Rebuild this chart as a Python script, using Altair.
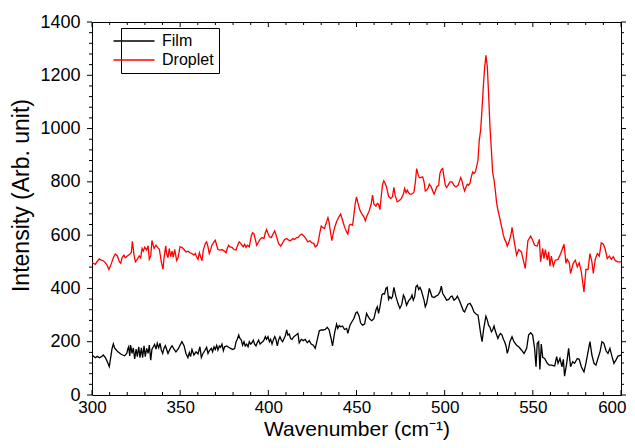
import altair as alt
import pandas as pd

# ---------------- data ----------------
film_x = [300.0, 301.9, 303.0, 304.2, 305.3, 306.4, 307.6, 308.7, 309.8, 310.6, 311.3, 312.1, 312.8, 314.0,
          315.1, 316.3, 317.4, 318.5, 319.7, 320.4, 320.8, 321.4, 321.9, 322.7, 323.4, 324.2, 325.0, 325.7,
          326.5, 327.2, 328.0, 328.7, 329.5, 330.2, 331.0, 331.8, 332.5, 333.3, 334.0, 334.8, 335.5, 336.3,
          337.0, 337.8, 338.6, 339.3, 340.1, 340.8, 341.6, 342.3, 343.1, 344.2, 345.4, 346.5, 347.6, 348.8,
          349.9, 351.0, 352.2, 353.3, 354.4, 355.2, 355.9, 356.7, 357.8, 359.0, 360.1, 361.2, 362.0, 362.8,
          363.9, 365.0, 365.8, 366.5, 367.7, 368.4, 369.2, 369.9, 370.7, 371.4, 372.2, 372.9, 373.7, 374.5,
          375.2, 376.4, 377.5, 378.6, 379.8, 380.9, 381.7, 382.4, 383.2, 383.9, 384.7, 385.4, 386.2, 386.9,
          387.7, 388.5, 389.2, 390.0, 390.7, 391.5, 392.2, 393.0, 393.7, 394.5, 395.3, 396.0, 396.8, 397.5,
          398.3, 399.0, 399.8, 400.6, 401.3, 402.1, 402.8, 403.6, 404.3, 405.1, 405.8, 406.6, 407.4, 408.1,
          408.9, 409.6, 410.4, 411.1, 411.9, 412.6, 413.4, 414.5, 415.7, 416.8, 417.5, 418.7, 419.8, 420.9,
          422.1, 423.2, 424.3, 425.5, 426.6, 427.7, 428.9, 430.0, 431.1, 432.3, 433.4, 434.5, 435.7, 436.4,
          437.6, 438.7, 439.4, 440.2, 441.0, 442.1, 443.2, 444.4, 445.1, 446.3, 447.4, 448.5, 449.7, 450.4,
          451.5, 452.3, 453.4, 454.6, 455.7, 456.5, 457.6, 458.7, 459.9, 461.0, 461.8, 462.5, 463.3, 464.4,
          465.2, 465.9, 466.7, 467.4, 468.2, 468.9, 469.7, 470.4, 471.2, 472.3, 473.5, 474.6, 475.7, 476.6,
          477.3, 478.4, 479.6, 480.7, 481.5, 482.2, 483.0, 483.7, 484.5, 485.3, 486.0, 486.8, 487.5, 488.3,
          489.0, 489.8, 490.5, 491.3, 492.1, 492.8, 494.0, 495.1, 496.2, 497.3, 498.1, 498.9, 500.0, 501.1,
          502.3, 503.4, 504.2, 505.3, 506.4, 507.2, 508.3, 509.4, 510.6, 511.3, 512.1, 513.2, 514.4, 515.5,
          516.6, 517.8, 518.9, 519.6, 520.4, 521.2, 521.9, 522.7, 523.4, 524.2, 524.9, 525.7, 526.5, 527.2,
          528.0, 528.7, 529.5, 530.2, 531.0, 531.7, 532.5, 533.3, 534.0, 534.8, 535.5, 536.3, 537.0, 538.2,
          539.3, 540.8, 542.0, 543.5, 545.0, 546.5, 547.6, 548.8, 549.9, 551.0, 551.8, 552.5, 553.3, 554.0,
          554.8, 555.6, 556.7, 558.2, 559.3, 560.5, 562.4, 563.5, 564.3, 565.4, 566.5, 567.3, 568.0, 569.2,
          570.3, 571.4, 572.6, 573.7, 575.2, 576.3, 577.5, 579.0, 580.1, 581.3, 582.4, 583.5, 584.7, 585.8,
          586.9, 588.1, 589.2, 590.3, 591.5, 592.6, 593.7, 594.9, 596.0, 597.1, 598.3, 600.0]
film_y = [150, 140, 145, 140, 144, 150, 140, 125, 107, 140, 172, 192, 177, 167,
          160, 154, 150, 147, 156, 175, 181, 147, 187, 156, 177, 135, 172, 144,
          181, 140, 177, 140, 185, 144, 175, 156, 187, 131, 172, 181, 190, 172,
          194, 177, 194, 169, 156, 175, 185, 172, 156, 172, 185, 172, 162, 172,
          187, 200, 185, 156, 140, 159, 144, 171, 150, 162, 154, 181, 141, 154,
          166, 179, 156, 166, 175, 162, 181, 171, 186, 169, 184, 179, 191, 166,
          181, 184, 179, 175, 171, 174, 200, 209, 225, 212, 206, 187, 200, 184,
          191, 181, 200, 191, 196, 206, 191, 184, 196, 206, 191, 196, 200, 206,
          219, 209, 219, 200, 209, 191, 206, 219, 209, 184, 206, 219, 206, 200,
          212, 221, 244, 225, 229, 212, 209, 219, 225, 231, 196, 209, 204, 209,
          196, 204, 191, 187, 175, 206, 241, 244, 244, 246, 254, 244, 209, 184,
          234, 266, 250, 261, 256, 259, 246, 250, 231, 262, 275, 287, 309, 312,
          296, 271, 262, 266, 306, 296, 284, 279, 287, 319, 331, 306, 331, 375,
          381, 379, 400, 404, 359, 369, 362, 369, 404, 371, 344, 325, 341, 375,
          366, 337, 354, 362, 375, 356, 369, 406, 412, 396, 404, 391, 375, 356,
          331, 344, 369, 400, 384, 369, 366, 371, 375, 387, 409, 381, 369, 356,
          359, 369, 371, 356, 362, 371, 356, 337, 316, 312, 325, 341, 344, 331,
          312, 304, 300, 269, 231, 200, 237, 271, 296, 281, 262, 254, 237, 244,
          259, 241, 225, 212, 225, 231, 225, 209, 200, 184, 156, 175, 200, 219,
          200, 187, 181, 169, 156, 175, 225, 234, 225, 175, 106, 194, 200, 96,
          191, 141, 137, 119, 112, 112, 109, 144, 119, 137, 106, 134, 71, 119,
          175, 106, 125, 119, 137, 134, 106, 87, 119, 162, 200, 150, 119, 112,
          137, 162, 200, 194, 166, 156, 175, 144, 119, 131, 146, 150]

droplet_x = [300.0, 301.9, 303.0, 304.2, 305.3, 306.4, 307.6, 308.7, 309.6, 311.0, 312.1, 313.2, 314.4, 315.5,
             316.3, 317.0, 318.1, 318.9, 320.0, 321.2, 322.3, 322.9, 323.8, 324.6, 325.7, 326.8, 327.6, 328.4,
             329.1, 329.9, 331.0, 331.8, 332.5, 333.3, 334.0, 335.2, 336.3, 337.4, 338.2, 339.3, 340.3, 340.8,
             341.8, 342.3, 343.1, 343.8, 344.6, 345.4, 346.1, 346.9, 348.0, 348.8, 349.9, 351.0, 352.2, 353.3,
             354.4, 355.6, 356.7, 357.8, 358.6, 359.3, 360.1, 360.9, 361.6, 362.4, 363.1, 364.3, 365.0, 365.8,
             366.5, 367.3, 368.0, 369.2, 369.9, 370.7, 371.4, 372.6, 373.7, 374.8, 376.0, 376.7, 377.5, 378.2,
             379.4, 380.5, 381.7, 382.8, 383.5, 384.3, 385.1, 385.8, 386.6, 387.3, 388.1, 389.2, 390.3, 391.1,
             391.9, 392.6, 393.4, 394.5, 395.3, 396.4, 397.5, 398.3, 399.0, 399.8, 400.6, 401.7, 402.8, 403.6,
             404.7, 405.8, 407.0, 408.1, 409.2, 410.4, 411.5, 412.6, 413.8, 414.9, 416.0, 416.8, 417.9, 419.0,
             420.2, 421.3, 422.4, 423.6, 424.7, 425.8, 426.6, 427.7, 428.5, 429.2, 430.0, 430.8, 431.9, 433.0,
             433.8, 434.5, 435.3, 436.0, 436.8, 437.6, 438.7, 439.8, 441.0, 442.1, 443.2, 444.4, 445.1, 445.9,
             446.6, 447.8, 448.5, 449.3, 450.0, 450.8, 451.9, 453.1, 454.2, 455.0, 456.1, 457.2, 458.3, 459.1,
             459.9, 461.0, 461.8, 462.5, 463.3, 464.0, 464.8, 465.5, 466.3, 467.0, 468.2, 469.3, 470.4, 471.2,
             471.9, 473.1, 474.2, 475.4, 476.6, 477.3, 478.1, 478.8, 479.6, 480.3, 481.1, 481.8, 482.6, 483.4,
             484.1, 484.9, 485.6, 486.4, 487.5, 488.3, 489.0, 489.8, 490.5, 491.3, 492.4, 493.2, 494.0, 494.7,
             495.5, 496.6, 497.3, 498.1, 498.9, 499.6, 500.4, 501.1, 501.9, 503.0, 504.2, 505.3, 506.4, 507.6,
             508.3, 509.1, 509.8, 510.6, 511.3, 512.1, 512.8, 513.6, 514.4, 515.1, 515.9, 516.6, 517.4, 518.1,
             518.9, 519.6, 520.4, 521.2, 521.9, 522.7, 523.4, 524.2, 524.9, 525.7, 526.5, 527.2, 528.0, 528.7,
             529.5, 530.2, 531.0, 531.7, 532.5, 533.3, 534.0, 534.8, 535.5, 536.3, 537.0, 537.8, 538.2, 539.7,
             540.8, 542.0, 543.5, 545.7, 547.2, 548.8, 549.9, 551.0, 552.5, 553.7, 554.4, 555.6, 556.3, 557.1,
             558.2, 559.0, 559.7, 560.5, 561.6, 562.7, 564.3, 565.8, 567.7, 568.8, 569.5, 570.7, 571.4, 572.9,
             574.1, 575.2, 576.3, 577.5, 579.0, 580.1, 581.3, 582.4, 583.5, 584.3, 585.4, 586.6, 587.7, 588.8,
             590.0, 591.1, 592.2, 593.4, 594.5, 595.6, 596.8, 598.3, 600.0]
droplet_y = [497, 490, 502, 511, 506, 504, 497, 485, 471, 494, 515, 529, 522, 500,
             494, 515, 525, 515, 522, 527, 535, 577, 527, 500, 510, 522, 515, 550,
             540, 555, 544, 560, 510, 522, 580, 550, 562, 552, 547, 500, 472, 512,
             560, 531, 515, 550, 519, 540, 517, 547, 505, 515, 556, 554, 546, 537,
             540, 534, 531, 525, 531, 519, 509, 534, 519, 504, 544, 569, 575, 556,
             531, 546, 562, 575, 581, 562, 546, 544, 546, 541, 534, 550, 562, 556,
             554, 546, 544, 566, 575, 569, 562, 556, 566, 554, 562, 556, 596, 609,
             604, 584, 562, 575, 584, 591, 587, 609, 621, 606, 594, 591, 606, 616,
             594, 569, 559, 571, 584, 587, 581, 579, 587, 584, 591, 591, 600, 604,
             596, 587, 575, 579, 571, 569, 556, 562, 581, 609, 634, 629, 625, 650,
             666, 646, 609, 579, 606, 629, 650, 666, 679, 656, 631, 612, 604, 637,
             641, 637, 675, 719, 744, 721, 694, 679, 669, 654, 675, 691, 716, 750,
             716, 709, 719, 716, 696, 744, 791, 804, 794, 781, 746, 737, 744, 779,
             750, 725, 729, 737, 754, 775, 759, 769, 759, 754, 754, 756, 762, 800,
             850, 829, 816, 816, 819, 800, 766, 769, 775, 791, 781, 766, 754, 766,
             781, 787, 831, 846, 850, 819, 787, 779, 787, 800, 800, 787, 781, 787,
             800, 816, 804, 781, 766, 781, 791, 787, 796, 819, 837, 831, 837, 856,
             881, 956, 994, 1075, 1156, 1231, 1275, 1231, 1131, 1006, 919, 837, 806, 769,
             719, 694, 671, 650, 625, 600, 584, 575, 559, 571, 587, 609, 629, 566,
             525, 546, 537, 475, 579, 596, 581, 562, 559, 584, 500, 550, 512, 546,
             506, 537, 484, 521, 484, 506, 509, 531, 566, 494, 509, 496, 456, 494,
             506, 481, 496, 462, 387, 471, 471, 531, 500, 456, 509, 531, 521, 571,
             566, 546, 512, 521, 509, 519, 504, 500, 500]

series_names = ["Film", "Droplet"]
series_colors = ["#000000", "#ff0000"]

x_major = [300, 350, 400, 450, 500, 550, 600]
x_minor = [v for v in range(310, 600, 10) if v % 50 != 0]
y_major = [0, 200, 400, 600, 800, 1000, 1200, 1400]
y_minor = [v for v in range(40, 1400, 40) if v % 200 != 0]

df = pd.concat([
    pd.DataFrame({"x": film_x, "y": film_y, "series": "Film"}),
    pd.DataFrame({"x": droplet_x, "y": droplet_y, "series": "Droplet"}),
], ignore_index=True)

W, H = 529, 373
FONT = "Liberation Sans"
xs = alt.Scale(domain=[300, 600], nice=False, zero=False)
ys = alt.Scale(domain=[0, 1400], nice=False, zero=False)
LAST_X = "datum.value == %d" % x_major[-1]

main = alt.Chart(df).mark_line(strokeWidth=1.3, clip=True).encode(
    x=alt.X("x:Q", scale=xs, axis=alt.Axis(
        values=x_major, ticks=False, tickSize=0, domain=False, grid=False, labelPadding=4,
        labelFlush=False, labelFont=FONT, labelFontSize=17, labelColor="black", format="d",
        labelAlign={"condition": {"test": LAST_X, "value": "right"}, "value": "center"},
        labelOffset={"condition": {"test": LAST_X, "value": 5}, "value": 0},
        title="Wavenumber (cm⁻¹)", titleFont=FONT, titleFontSize=21, titleFontWeight="normal",
        titleColor="black", titlePadding=3)),
    y=alt.Y("y:Q", scale=ys, axis=alt.Axis(
        values=y_major, ticks=False, tickSize=0, domain=False, grid=False, labelPadding=12,
        labelFlush=False, labelFont=FONT, labelFontSize=18, labelColor="black", format="d",
        title="Intensity (Arb. unit)", titleFont=FONT, titleFontSize=23, titleFontWeight="normal",
        titleColor="black", titlePadding=6, titleY=173)),
    color=alt.Color("series:N", scale=alt.Scale(domain=series_names, range=series_colors),
                    legend=alt.Legend(title=None, orient="none", legendX=29, legendY=6,
                                      symbolType="M-3,0H3", symbolSize=187, symbolStrokeWidth=1.3,
                                      labelFont=FONT, labelFontSize=16, labelColor="black",
                                      labelOffset=20, rowPadding=3, padding=5,
                                      strokeColor="black", fillColor="white", cornerRadius=0)),
    detail="series:N",
)

xt_major = pd.DataFrame({"v": x_major})
xt_minor = pd.DataFrame({"v": x_minor})
yt_major = pd.DataFrame({"v": y_major})
yt_minor = pd.DataFrame({"v": y_minor})


def xticks(data, y0, y1):
    return alt.Chart(data).mark_rule(color="black", strokeWidth=1).encode(
        x=alt.X("v:Q", scale=xs, axis=None), y=alt.value(y0), y2=alt.value(y1))


def yticks(data, x0, x1):
    return alt.Chart(data).mark_rule(color="black", strokeWidth=1).encode(
        y=alt.Y("v:Q", scale=ys, axis=None), x=alt.value(x0), x2=alt.value(x1))


layers = [
    main,
    xticks(xt_major, H - 5, H), xticks(xt_minor, H - 3, H),      # bottom, inward
    xticks(xt_major, 0, 5), xticks(xt_minor, 0, 3),              # top, inward
    yticks(yt_major, -5, 0), yticks(yt_minor, -3, 0),            # left, outward
    yticks(yt_major, W, W + 5), yticks(yt_minor, W, W + 3),      # right, outward
]

chart = alt.layer(*layers).resolve_axis(
    x="independent", y="independent"
).properties(
    width=W, height=H,
    autosize=alt.AutoSizeParams(type="none"),
    padding={"left": 84, "top": 14, "right": 6, "bottom": 45},
    background="white",
).configure_view(stroke="black", strokeWidth=1)

chart.save("out.html", embed_options={"renderer": "svg", "actions": False})
